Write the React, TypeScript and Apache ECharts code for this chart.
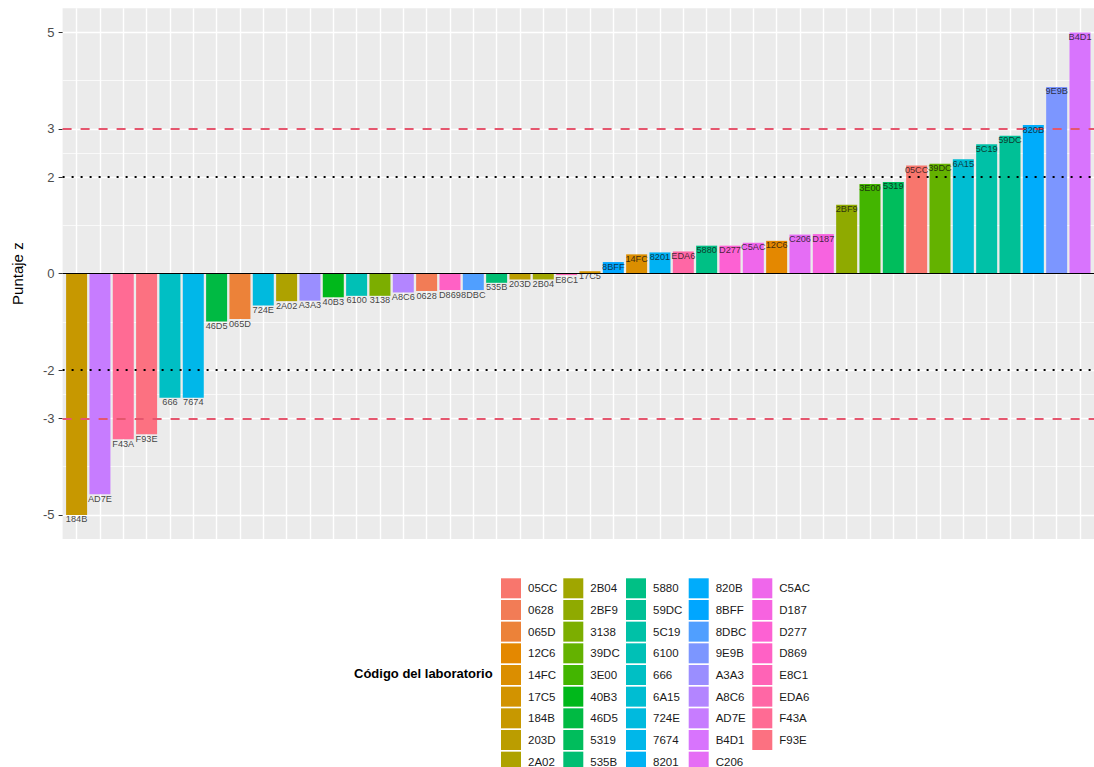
import React, { useEffect, useRef } from "react";
import * as echarts from "echarts";

// Bars in plotted order (sorted by z-score)
const CODES = [
  "184B", "AD7E", "F43A", "F93E", "666", "7674", "46D5", "065D", "724E", "2A02", "A3A3",
  "40B3", "6100", "3138", "A8C6", "0628", "D869", "8DBC", "535B", "203D", "2B04", "E8C1",
  "17C5", "8BFF", "14FC", "8201", "EDA6", "5880", "D277", "C5AC", "12C6", "C206", "D187",
  "2BF9", "3E00", "5319", "05CC", "39DC", "6A15", "5C19", "59DC", "820B", "9E9B", "B4D1",
];
const ZSCORES = [
  -5.0, -4.57, -3.43, -3.33, -2.57, -2.57, -0.99, -0.94, -0.66, -0.57, -0.56,
  -0.49, -0.46, -0.46, -0.39, -0.36, -0.34, -0.34, -0.19, -0.12, -0.12, -0.03,
  0.05, 0.24, 0.4, 0.44, 0.46, 0.58, 0.58, 0.64, 0.68, 0.81, 0.82,
  1.43, 1.86, 1.9, 2.24, 2.28, 2.37, 2.68, 2.86, 3.08, 3.87, 5.0,
];
// Legend (factor level) order
const LEVELS = [
  "05CC", "0628", "065D", "12C6", "14FC", "17C5", "184B", "203D", "2A02",
  "2B04", "2BF9", "3138", "39DC", "3E00", "40B3", "46D5", "5319", "535B",
  "5880", "59DC", "5C19", "6100", "666", "6A15", "724E", "7674", "8201",
  "820B", "8BFF", "8DBC", "9E9B", "A3A3", "A8C6", "AD7E", "B4D1", "C206",
  "C5AC", "D187", "D277", "D869", "E8C1", "EDA6", "F43A", "F93E",
];
const Y_MAJOR = [-5, -3, -2, 0, 2, 3, 5];
const Y_MINOR = [-4, -2.5, -1, 1, 2.5, 4];
const WARN_LIMITS = [-2, 2];
const ACTION_LIMITS = [-3, 3];
const Y_TITLE = "Puntaje z";
const LEGEND_TITLE = "Código del laboratorio";

function hclHex(h: number, c = 100, l = 65): string {
  const hr = (h * Math.PI) / 180;
  const U = c * Math.cos(hr);
  const V = c * Math.sin(hr);
  const Xn = 95.047, Yn = 100, Zn = 108.883;
  const Y = l > 8 ? Yn * Math.pow((l + 16) / 116, 3) : (Yn * l) / 903.3;
  const t = Xn + 15 * Yn + 3 * Zn;
  const un = (4 * Xn) / t, vn = (9 * Yn) / t;
  const u = U / (13 * l) + un, v = V / (13 * l) + vn;
  const X = (9 * Y * u) / (4 * v);
  const Z = -X / 3 - 5 * Y + (3 * Y) / v;
  const x = X / 100, y = Y / 100, z = Z / 100;
  const lin = [
    3.240479 * x - 1.53715 * y - 0.498535 * z,
    -0.969256 * x + 1.875992 * y + 0.041556 * z,
    0.055648 * x - 0.204043 * y + 1.057311 * z,
  ];
  const g = (a: number) => {
    const s = a > 0.00304 ? 1.055 * Math.pow(a, 1 / 2.4) - 0.055 : 12.92 * a;
    return Math.round(Math.min(1, Math.max(0, s)) * 255);
  };
  return "#" + lin.map(g).map((n) => n.toString(16).padStart(2, "0")).join("");
}

export default function App() {
  const ref = useRef<HTMLDivElement | null>(null);

  useEffect(() => {
    if (!ref.current) return;
    const chart = echarts.init(ref.current, null, { renderer: "svg" });
    const FONT = "'Liberation Sans', Arial, Helvetica, sans-serif";
    const n = LEVELS.length;
    const colorOf: Record<string, string> = {};
    LEVELS.forEach((lv, i) => {
      colorOf[lv] = hclHex((15 + (i * 360) / n) % 360);
    });
    const idx = CODES.map((_, i) => i);

    const barSeries = CODES.map((code, i) => ({
      type: "bar",
      name: code,
      data: [[i, ZSCORES[i]]],
      barWidth: "90%",
      barGap: "-100%",
      itemStyle: { color: colorOf[code] },
      z: 2,
      silent: true,
    }));

    const labelSeries = {
      type: "scatter",
      name: "__labels",
      data: CODES.map((c, i) => [i, ZSCORES[i], c]),
      symbolSize: 0,
      z: 6,
      silent: true,
      label: {
        show: true,
        position: "bottom",
        distance: 0,
        formatter: (p: any) => p.value[2],
        fontSize: 9.2,
        color: "#111111",
        fontFamily: FONT,
      },
      markLine: {
        silent: true,
        symbol: ["none", "none"],
        label: { show: false },
        data: [
          ...WARN_LIMITS.map((v) => ({
            yAxis: v,
            lineStyle: { color: "#000000", width: 2, type: [2, 7] },
          })),
          ...ACTION_LIMITS.map((v) => ({
            yAxis: v,
            lineStyle: { color: "#E5566E", width: 2, type: [9, 9] },
          })),
          { yAxis: 0, lineStyle: { color: "#000000", width: 1, type: "solid" } },
        ],
      },
    };

    const legendX = [501, 563.3, 626, 688.7, 752.3];
    const legends = legendX.map((x, k) => ({
      orient: "vertical",
      left: x,
      top: 578.3,
      height: 220,
      padding: 0,
      itemWidth: 20,
      itemHeight: 20,
      itemGap: 1.67,
      icon: "rect",
      selectedMode: false,
      data: LEVELS.slice(k * 9, k * 9 + 9),
      textStyle: { fontSize: 11.5, color: "#1A1A1A", fontFamily: FONT, padding: [0, 0, 0, 2] },
    }));

    chart.setOption({
      animation: false,
      textStyle: { fontFamily: FONT },
      grid: {
        left: 62.6,
        top: 8.3,
        width: 1037.6,
        height: 530.7,
        show: true,
        backgroundColor: "#EBEBEB",
        borderWidth: 0,
      },
      xAxis: [
        {
          type: "value",
          min: -0.6,
          max: 43.6,
          axisLine: { show: false, onZero: false },
          axisTick: { show: false, customValues: idx },
          axisLabel: { show: false, customValues: idx },
          splitLine: { show: true, lineStyle: { color: "#FFFFFF", width: 1.4 } },
        },
      ],
      yAxis: [
        {
          type: "value",
          min: -5.5,
          max: 5.5,
          name: Y_TITLE,
          nameLocation: "middle",
          nameGap: 38,
          nameTextStyle: { fontSize: 15, color: "#000000", fontFamily: FONT },
          axisLine: { show: false, onZero: false },
          axisTick: {
            show: true,
            length: 4,
            lineStyle: { color: "#333333", width: 1 },
            customValues: Y_MAJOR,
          },
          axisLabel: {
            customValues: Y_MAJOR,
            fontSize: 13,
            color: "#4D4D4D",
            margin: 8,
            fontFamily: FONT,
          },
          splitLine: { show: true, lineStyle: { color: "#FFFFFF", width: 1.4 } },
        },
        {
          type: "value",
          min: -5.5,
          max: 5.5,
          position: "left",
          axisLine: { show: false, onZero: false },
          axisTick: { show: false, customValues: Y_MINOR },
          axisLabel: { show: false, customValues: Y_MINOR },
          splitLine: { show: true, lineStyle: { color: "#FFFFFF", width: 0.7 } },
        },
      ],
      legend: legends,
      graphic: [
        {
          type: "text",
          left: 354,
          top: 667,
          style: {
            text: LEGEND_TITLE,
            fontSize: 13,
            fontWeight: "bold",
            fill: "#000000",
            fontFamily: FONT,
          },
        },
      ],
      series: [...barSeries, labelSeries],
    });

    return () => chart.dispose();
  }, []);

  return (
    <div
      ref={ref}
      style={{ position: "absolute", left: 0, top: 0, width: 1094, height: 767 }}
    />
  );
}
